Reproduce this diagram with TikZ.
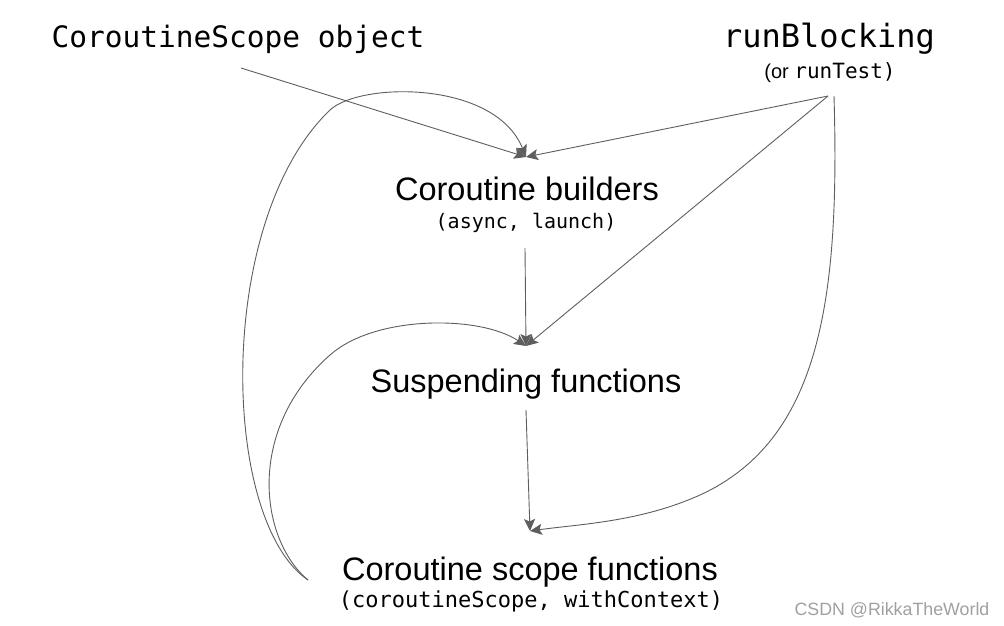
\documentclass[tikz,border=0pt]{standalone}
\usepackage{fontspec}
\setmainfont{Liberation Sans}
\setmonofont{DejaVu Sans Mono}
\usetikzlibrary{arrows.meta}
\definecolor{edge}{HTML}{5E5E5E}
\definecolor{wm}{HTML}{A0A0A0}
\tikzset{
  lbl/.style={inner sep=0pt, anchor=base, text=black},
  big/.style={lbl, font=\fontsize{32.5}{39}\selectfont},
  conn/.style={draw=edge, line width=0.9pt, -{Stealth[length=12pt,width=11pt,inset=2.5pt,fill=edge]}},
}
\begin{document}
\begin{tikzpicture}[x=1pt,y=-1pt]
\useasboundingbox (0,0) rectangle (1004,625);
% labels
\node[lbl, font=\fontsize{29.5}{34}\ttfamily] (cso) at (238,47) {CoroutineScope object};
\node[lbl, font=\fontsize{32}{36}\ttfamily] (rb) at (829,47) {runBlocking};
\node[lbl, font=\fontsize{20}{24}\selectfont] (rt) at (830,78) {(or \fontsize{21}{24}\ttfamily runTest)};
\node[big] (cb) at (527,200) {Coroutine builders};
\node[lbl, font=\fontsize{20}{24}\ttfamily] (cbs) at (526,228) {(async, launch)};
\node[big] (sf) at (526,392) {Suspending functions};
\node[big] (csf) at (530,580) {Coroutine scope functions};
\node[lbl, font=\fontsize{22}{26}\ttfamily] (csfs) at (531,607) {(coroutineScope, withContext)};
\node[lbl, text=wm, font=\fontsize{17.8}{20}\selectfont] (wmk) at (892,615) {CSDN @RikkaTheWorld};
% connector endpoints
\coordinate (csoOut) at (241,68);
\coordinate (rbOut) at (828,96);
\coordinate (rbOut2) at (834,96);
\coordinate (cbIn) at (526,157);
\coordinate (cbOut) at (525,248);
\coordinate (sfIn) at (526,346);
\coordinate (sfOut) at (526,410);
\coordinate (csfIn) at (530,531);
\coordinate (csfOut) at (308,580);
% connectors
\draw[conn] (csoOut) -- (cbIn);
\draw[conn] (rbOut) -- (cbIn);
\draw[conn] (rbOut) -- (sfIn);
\draw[conn] (cbOut) -- (sfIn);
\draw[conn] (sfOut) -- (csfIn);
\draw[conn] (rbOut2) .. controls (840,300) and (820,440) .. (700,495)
  .. controls (640,522) and (580,524) .. (csfIn);
\draw[conn] (csfOut) .. controls (220,520) and (215,220) .. (330,110)
  .. controls (360,82) and (495,80) .. (cbIn);
\draw[conn] (csfOut) .. controls (260,540) and (245,430) .. (330,355)
  .. controls (375,315) and (480,315) .. (sfIn);
\end{tikzpicture}
\end{document}
